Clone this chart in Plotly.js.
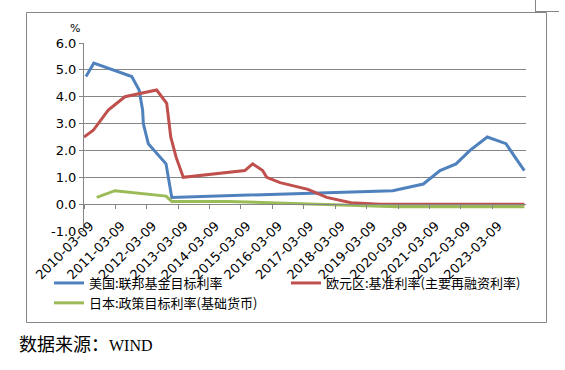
<!DOCTYPE html>
<html>
<head>
<meta charset="utf-8">
<script src="https://cdn.plot.ly/plotly-3.0.1.min.js"></script>
<style>html,body{margin:0;padding:0;background:#fff;}#chart{width:565px;height:370px;}</style>
</head>
<body>
<div id="chart"></div>
<script>
// ---- data ----
var usDates = ['2010-04-01','2010-07-01','2011-09-15','2011-12-10','2012-01-20','2012-01-28','2012-03-26','2012-10-18','2012-12-24','2020-01-07','2020-12-28','2021-07-10','2022-01-12','2022-06-24','2023-01-11','2023-08-16','2023-11-29','2024-03-17'];
var usRate  = [4.75, 5.25, 4.75, 4.25, 3.5, 3.0, 2.25, 1.5, 0.25, 0.5, 0.75, 1.25, 1.5, 2.0, 2.5, 2.25, 1.75, 1.25];

var euDates = ['2010-03-09','2010-06-25','2010-12-16','2011-06-28','2012-07-01','2012-10-26','2012-12-12','2013-02-12','2013-05-07','2015-04-23','2015-07-22','2015-11-16','2016-01-02','2016-06-06','2017-04-26','2017-11-30','2018-09-09','2019-08-12','2024-03-17'];
var euRate  = [2.5, 2.75, 3.5, 4.0, 4.25, 3.75, 2.5, 1.75, 1.0, 1.25, 1.5, 1.25, 1.0, 0.8, 0.55, 0.25, 0.05, 0.0, 0.0];

var jpDates = ['2010-08-04','2011-03-04','2012-10-18','2012-12-24','2014-10-12','2020-02-22','2024-03-17'];
var jpRate  = [0.25, 0.5, 0.3, 0.1, 0.1, -0.1, -0.1];

var seriesNames = ['美国:联邦基金目标利率', '欧元区:基准利率(主要再融资利率)', '日本:政策目标利率(基础货币)'];
var tickDates = ['2010-03-09','2011-03-09','2012-03-09','2013-03-09','2014-03-09','2015-03-09','2016-03-09','2017-03-09','2018-03-09','2019-03-09','2020-03-09','2021-03-09','2022-03-09','2023-03-09'];
var tickLabels = tickDates.slice();
var yTicks = [-1, 0, 1, 2, 3, 4, 5, 6];
var yLabels = ['-1.0','0.0','1.0','2.0','3.0','4.0','5.0','6.0'];

// ---- layout helpers (pixel -> paper) ----
var W = 565, H = 370, ML = 84, MR = 39, MT = 43, MB = 139;
var PW = W - ML - MR, PH = H - MT - MB;
function px(x){ return (x - ML) / PW; }
function py(y){ return (H - MB - y) / PH; }
var grey = '#868686';

var traces = [
  {x: usDates, y: usRate, name: seriesNames[0], type: 'scatter', mode: 'lines', line: {color: '#4F81BD', width: 3}},
  {x: euDates, y: euRate, name: seriesNames[1], type: 'scatter', mode: 'lines', line: {color: '#C0504D', width: 3}},
  {x: jpDates, y: jpRate, name: seriesNames[2], type: 'scatter', mode: 'lines', line: {color: '#9BBB59', width: 3}}
];

var layout = {
  width: W, height: H,
  margin: {l: ML, r: MR, t: MT, b: MB, pad: 0},
  paper_bgcolor: '#fff', plot_bgcolor: '#fff',
  showlegend: true,
  xaxis: {
    type: 'date', range: ['2010-03-09', '2024-04-05'],
    anchor: 'free', position: 1/7,
    tickmode: 'array', tickvals: tickDates, ticktext: tickLabels,
    tickangle: -45, ticks: 'outside', ticklen: 4, tickcolor: grey,
    ticklabelstandoff: 4, ticklabelshift: 6,
    showline: true, linecolor: grey, linewidth: 1,
    showgrid: false, zeroline: false,
    tickfont: {family: 'DejaVu Sans', size: 13, color: '#000'}
  },
  yaxis: {
    range: [-1, 6], domain: [0, 1],
    tickmode: 'array', tickvals: yTicks, ticktext: yLabels,
    ticks: 'outside', ticklen: 4, tickcolor: grey,
    showline: true, linecolor: grey, linewidth: 1,
    showgrid: true, gridcolor: grey, gridwidth: 1, zeroline: false,
    tickfont: {family: 'DejaVu Sans', size: 13, color: '#000'}
  },
  legend: {
    orientation: 'h', x: px(49), xanchor: 'left', y: py(268), yanchor: 'top',
    entrywidth: 192, entrywidthmode: 'pixels', itemwidth: 30,
    font: {family: 'Noto Sans CJK SC', size: 13, color: '#000'},
    bgcolor: 'rgba(0,0,0,0)', borderwidth: 0, traceorder: 'normal'
  },
  annotations: [
    {text: '%', xref: 'paper', yref: 'paper', x: px(75), y: py(28), xanchor: 'center', yanchor: 'middle', showarrow: false,
     font: {family: 'DejaVu Sans', size: 11, color: '#000'}},
    {text: '数据来源：<span style="font-family:Liberation Serif;font-size:16px">WIND</span>', xref: 'paper', yref: 'paper', x: px(17), y: py(343), xanchor: 'left', yanchor: 'middle', showarrow: false,
     font: {family: 'Noto Sans CJK SC', size: 18, color: '#000'}}
  ],
  shapes: [
    {type: 'rect', xref: 'paper', yref: 'paper', x0: px(26.5), x1: px(546.5), y0: py(12.5), y1: py(322.5), line: {color: grey, width: 1}, layer: 'below'},
    {type: 'line', xref: 'paper', yref: 'paper', x0: px(535.5), x1: px(535.5), y0: py(0), y1: py(12), line: {color: grey, width: 1}},
    {type: 'line', xref: 'paper', yref: 'paper', x0: px(535.5), x1: px(559), y0: py(11.5), y1: py(11.5), line: {color: grey, width: 1}}
  ]
};

Plotly.newPlot('chart', traces, layout, {displayModeBar: false, staticPlot: true});
</script>
</body>
</html>
